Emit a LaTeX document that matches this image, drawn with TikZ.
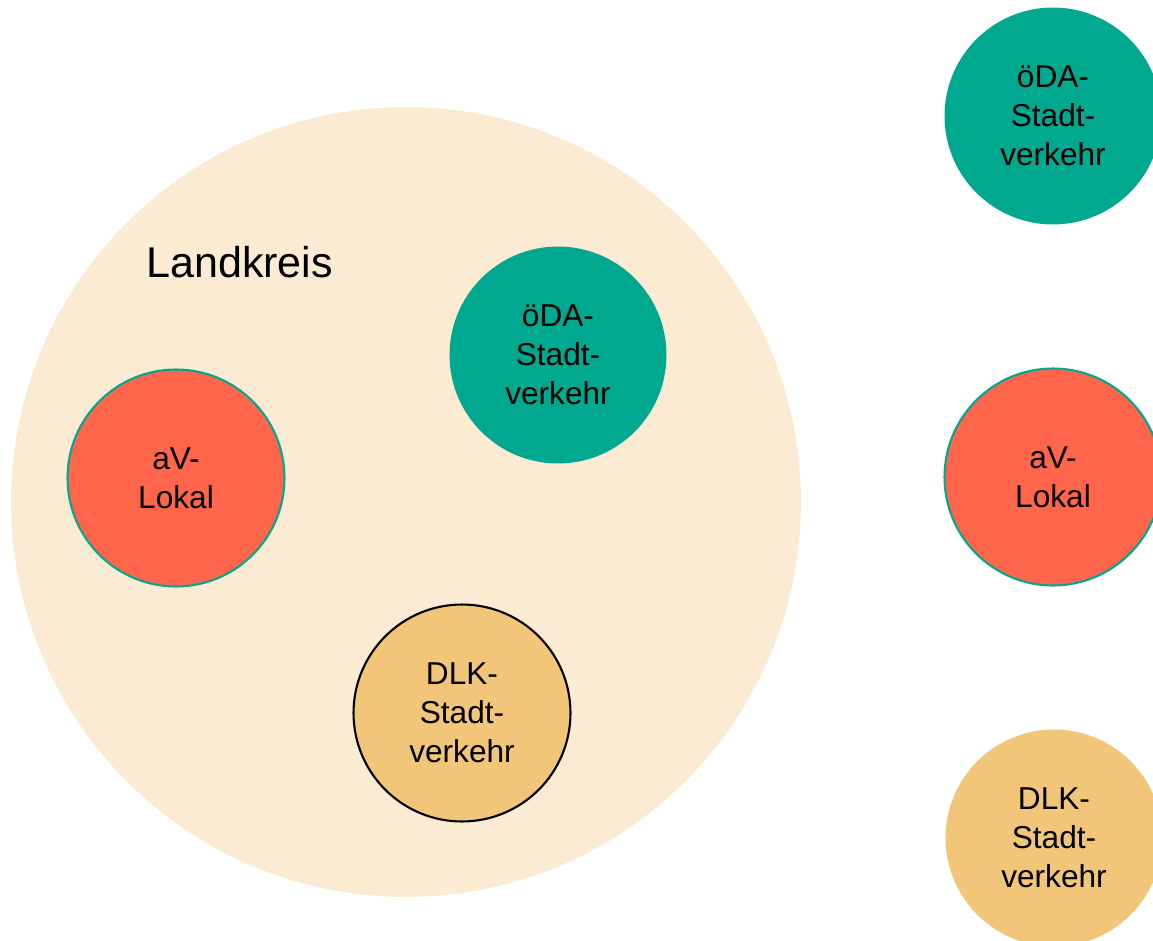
\documentclass[tikz,border=0pt]{standalone}
\usepackage{fontspec}
\setmainfont{Liberation Sans}
\definecolor{beige}{HTML}{FBEBD3}
\definecolor{teal}{HTML}{00A88F}
\definecolor{rot}{HTML}{FF654A}
\definecolor{gold}{HTML}{F1C679}

\begin{document}
\begin{tikzpicture}[x=0.02cm, y=-0.02cm]

  \useasboundingbox (0,0) rectangle (1153,940);

  % Landkreis
  \node[circle, fill=beige, minimum size=15.8cm, inner sep=0pt] (kreis) at (406,502) {};
  \node[anchor=base west, inner sep=0pt, font=\fontsize{24.5}{28}\selectfont] (kreislabel) at (146,277) {Landkreis};

  % Kreise im Landkreis
  \begin{scope}[every node/.style={circle, minimum size=4.34cm, inner sep=0pt, align=center,
      font=\fontsize{18}{22.2}\selectfont}]
    \node[fill=teal] (oda) at (558,355) {öDA-\\Stadt-\\verkehr};
    \node[fill=rot, draw=teal, line width=1.2pt] (av) at (176,478) {aV-\\Lokal};
    \node[fill=gold, draw=black, line width=1.2pt] (dlk) at (462,713) {DLK-\\Stadt-\\verkehr};
  \end{scope}

  % Kreise rechts
  \begin{scope}[xshift=1053*0.02cm, every node/.style={circle, minimum size=4.34cm, inner sep=0pt, align=center,
      font=\fontsize{18}{22.2}\selectfont}]
    \node[fill=teal] (odar) at (0,116) {öDA-\\Stadt-\\verkehr};
    \node[fill=rot, draw=teal, line width=1.2pt] (avr) at (0,477) {aV-\\Lokal};
    \node[fill=gold] (dlkr) at (1,838) {DLK-\\Stadt-\\verkehr};
  \end{scope}

\end{tikzpicture}
\end{document}
